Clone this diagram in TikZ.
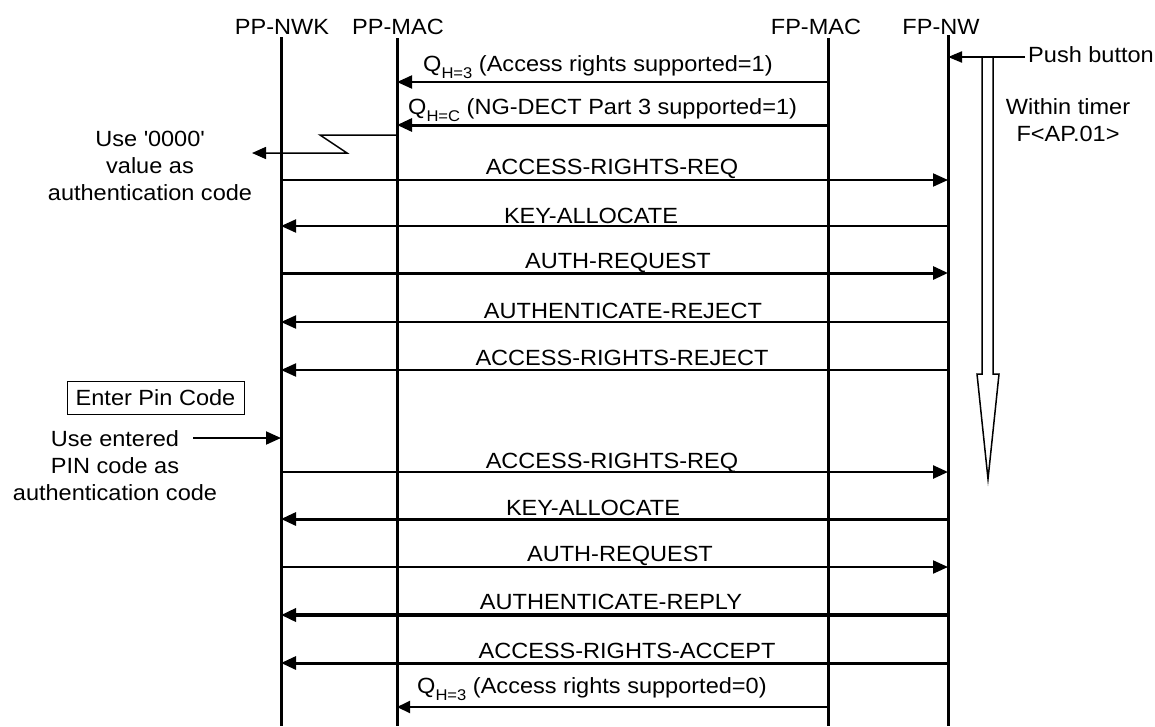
\documentclass[tikz,border=0pt]{standalone}
\usepackage{fontspec}
\setmainfont{Liberation Sans}[FakeStretch=1.07]
\usetikzlibrary{arrows.meta,positioning}

\newcommand{\qsub}[1]{Q\raisebox{-7pt}{\fontsize{15.5}{15.5}\selectfont H=#1}}

\begin{document}
\begin{tikzpicture}[x=1pt, y=-1pt,
    lifeline/.style={line width=3pt},
    lname/.style={font=\fontsize{22}{27}\selectfont, inner sep=0pt, anchor=base},
    msg/.style={line width=2pt, -{Triangle[length=15pt, width=13pt]}},
    thickmsg/.style={msg, line width=3pt},
    lbl/.style={font=\fontsize{22}{27}\selectfont, inner sep=0pt, anchor=base},
    note/.style={font=\fontsize{22}{27}\selectfont, inner sep=0pt, align=center, anchor=north}
]
    \useasboundingbox (0,0) rectangle (1155,726);

    % Lifelines
    \node[lname] (nwkname) at (282,34) {PP-NWK};
    \node[lname] (pmacname) at (398,34) {PP-MAC};
    \node[lname] (fmacname) at (816,34) {FP-MAC};
    \node[lname] (fnwname) at (941,34) {FP-NW};
    \coordinate (nwk) at (281,37);
    \coordinate (pmac) at (397,38);
    \coordinate (fmac) at (828,38);
    \coordinate (fnw) at (948,35);
    \draw[lifeline] (nwk) -- (nwk |- 0,726);
    \draw[lifeline] (pmac) -- (pmac |- 0,726);
    \draw[lifeline] (fmac) -- (fmac |- 0,726);
    \draw[lifeline] (fnw) -- (fnw |- 0,726);

    % Push button and timer
    \draw[line width=1.5pt, fill=white] (982,57) -- (982,374) -- (977,374) -- (988,479)
        -- (999,374) -- (993,374) -- (993,57) -- cycle;
    \node[lbl, anchor=base west] (push) at (1028,62) {Push button};
    \coordinate (pushend) at (1025,57);
    \draw[msg, -{Triangle[length=14pt, width=11pt]}] (pushend) -- (fnw |- pushend);
    \node[note] (timer) at (1068,98.5) {Within timer\\F<AP.01>};

    % MAC broadcast
    \draw[msg] (fmac |- 0,82) -- (pmac |- 0,82);
    \node[lbl, anchor=base west] (q1) at (423,71) {\qsub{3} (Access rights supported=1)};
    \draw[thickmsg] (fmac |- 0,125) -- (pmac |- 0,125);
    \node[lbl, anchor=base west] (qc) at (408,114) {\qsub{C} (NG-DECT Part 3 supported=1)};

    \coordinate (use0) at (252,153);
    \draw[line width=1.5pt, -{Triangle[length=14pt, width=12pt]}] (pmac |- 0,135) -- (320,135) -- (347,153) -- (use0);
    \node[note] (zeronote) at (150,130.5) {Use \textquotesingle 0000\textquotesingle\\value as\\authentication code};

    % First attempt with '0000'
    \draw[msg] (nwk |- 0,180) -- (fnw |- 0,180);
    \node[lbl] (req1) at (612,174) {ACCESS-RIGHTS-REQ};
    \draw[msg] (fnw |- 0,226) -- (nwk |- 0,226);
    \node[lbl] (key1) at (591,223) {KEY-ALLOCATE};
    \draw[thickmsg] (nwk |- 0,273) -- (fnw |- 0,273);
    \node[lbl] (auth1) at (618,268) {AUTH-REQUEST};
    \draw[msg] (fnw |- 0,322) -- (nwk |- 0,322);
    \node[lbl] (rej1) at (623,318) {AUTHENTICATE-REJECT};
    \draw[msg] (fnw |- 0,370) -- (nwk |- 0,370);
    \node[lbl] (rej2) at (622,365) {ACCESS-RIGHTS-REJECT};

    % Second attempt with PIN
    \node[draw, line width=1pt, minimum width=177pt, minimum height=33pt, inner sep=0pt,
        font=\fontsize{22}{27}\selectfont] (pinbox) at (155.5,397.5) {Enter Pin Code};
    \node[note] (pinnote) at (115,430.5) {Use entered\\PIN code as\\authentication code};
    \coordinate (pinstart) at (193,438);
    \draw[msg] (pinstart) -- (nwk |- pinstart);

    \draw[msg, line width=2.5pt] (nwk |- 0,472) -- (fnw |- 0,472);
    \node[lbl] (req2) at (612,468) {ACCESS-RIGHTS-REQ};
    \draw[thickmsg] (fnw |- 0,519) -- (nwk |- 0,519);
    \node[lbl] (key2) at (593,515) {KEY-ALLOCATE};
    \draw[msg] (nwk |- 0,567) -- (fnw |- 0,567);
    \node[lbl] (auth2) at (620,561) {AUTH-REQUEST};
    \draw[thickmsg, line width=3.5pt] (fnw |- 0,615) -- (nwk |- 0,615);
    \node[lbl] (reply) at (611,609) {AUTHENTICATE-REPLY};
    \draw[thickmsg] (fnw |- 0,663) -- (nwk |- 0,663);
    \node[lbl] (accept) at (627,658) {ACCESS-RIGHTS-ACCEPT};

    \draw[msg, -{Triangle[length=13pt, width=12pt]}] (fmac |- 0,707) -- (pmac |- 0,707);
    \node[lbl, anchor=base west] (q0) at (417,693) {\qsub{3} (Access rights supported=0)};
\end{tikzpicture}
\end{document}
